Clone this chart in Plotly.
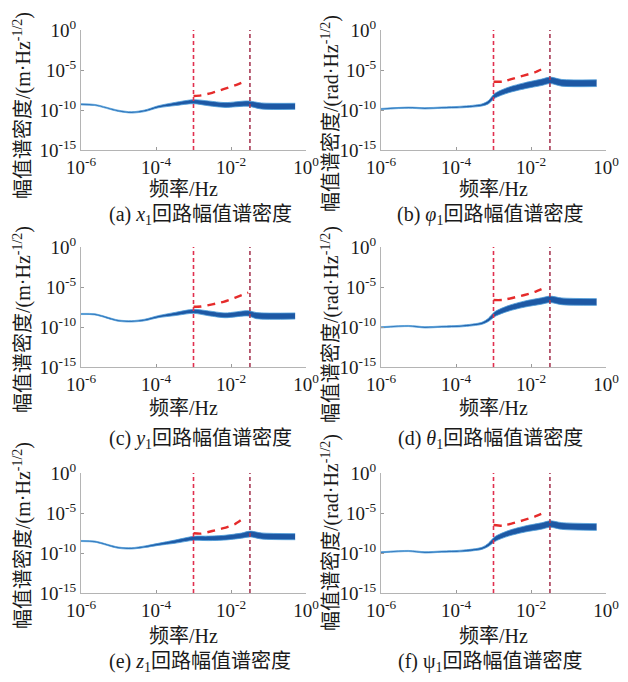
import plotly.graph_objects as go

# ---- data (log10 values) ----
# left column (x1, y1, z1 loops)
LF_A = [-6, -5.63, -5.01, -4.65, -4.3, -3.94, -3.49, -3.0, -2.6, -2.16, -1.54, -1.19, -0.29]
LA_A = [-9.29, -9.375, -10.1, -10.3, -10.1, -9.6, -9.25, -8.96, -9.17, -9.375, -9.2, -9.5, -9.54]
HW_A = [0.07, 0.07, 0.08, 0.08, 0.1, 0.13, 0.2, 0.25, 0.3, 0.3, 0.33, 0.38, 0.38]

LF_C = [-6, -5.63, -5.01, -4.65, -4.3, -3.94, -3.49, -3.0, -2.6, -2.16, -1.54, -1.32, -0.29]
LA_C = [-8.375, -8.42, -9.2, -9.29, -9.125, -8.71, -8.375, -8.04, -8.29, -8.54, -8.29, -8.58, -8.625]
HW_C = [0.07, 0.07, 0.08, 0.08, 0.1, 0.13, 0.2, 0.25, 0.3, 0.3, 0.33, 0.38, 0.38]

LF_E = [-6, -5.63, -5.01, -4.65, -4.29, -3.94, -3.49, -3.0, -2.6, -2.16, -1.72, -1.49, -1.18, -0.29]
LA_E = [-8.5, -8.58, -9.33, -9.42, -9.21, -8.92, -8.58, -8.17, -8.17, -8.08, -7.83, -7.625, -7.875, -7.96]
HW_E = [0.07, 0.07, 0.08, 0.08, 0.1, 0.13, 0.2, 0.25, 0.28, 0.3, 0.32, 0.36, 0.38, 0.38]

# right column (phi1, theta1, psi1 loops)
LF_B = [-6, -5.27, -4.83, -4.38, -3.85, -3.31, -3.14, -2.96, -2.6, -2.16, -1.72, -1.49, -1.18, -0.25]
LA_B = [-9.875, -9.71, -9.79, -9.71, -9.625, -9.375, -9.04, -8.21, -7.5, -6.96, -6.54, -6.29, -6.6, -6.65]
HW_B = [0.07, 0.07, 0.08, 0.08, 0.1, 0.13, 0.2, 0.3, 0.35, 0.38, 0.4, 0.4, 0.42, 0.42]

LF_D = LF_B
LA_D = [-10.04, -9.875, -10.04, -9.96, -9.875, -9.54, -9.125, -8.375, -7.67, -7.125, -6.75, -6.54, -6.79, -6.875]
HW_D = HW_B

LF_F = LF_B
LA_F = [-9.92, -9.75, -9.92, -9.83, -9.75, -9.42, -9.0, -8.25, -7.54, -7.0, -6.625, -6.375, -6.625, -6.75]
HW_F = HW_B

# red dashed bound lines (log10 f, log10 A)
BF_A = [-3.0, -2.8, -2.5, -2.2, -1.9, -1.69]
BA_A = [-8.25, -8.17, -7.85, -7.4, -6.93, -6.54]
BF_C = [-3.0, -2.8, -2.5, -2.2, -1.9, -1.54]
BA_C = [-7.46, -7.44, -7.17, -6.85, -6.35, -5.71]
BF_E = [-3.0, -2.8, -2.5, -2.2, -1.9, -1.69]
BA_E = [-7.54, -7.58, -7.25, -6.9, -6.4, -5.75]
BF_B = [-3.0, -2.76, -2.5, -2.2, -1.9, -1.63]
BA_B = [-6.46, -6.46, -6.1, -5.7, -5.3, -4.71]
BF_D = [-3.0, -2.76, -2.5, -2.2, -1.9, -1.63]
BA_D = [-6.63, -6.62, -6.37, -6.03, -5.62, -5.08]
BF_F = [-3.0, -2.76, -2.5, -2.2, -1.9, -1.63]
BA_F = [-6.5, -6.6, -6.3, -5.9, -5.45, -4.92]

VLINES = [1e-3, 0.032]

X_TICKS = [1e-6, 1e-4, 1e-2, 1]
X_TICKTEXT = ["10<sup>-6</sup>", "10<sup>-4</sup>", "10<sup>-2</sup>", "10<sup>0</sup>"]
Y_TICKS = [1e-15, 1e-10, 1e-5, 1]
Y_TICKTEXT = ["10<sup>-15</sup>", "10<sup>-10</sup>", "10<sup>-5</sup>", "10<sup>0</sup>"]

CAPTIONS = ["(a) <i>x</i><sub>1</sub>回路幅值谱密度", "(b) <i>φ</i><sub>1</sub>回路幅值谱密度",
            "(c) <i>y</i><sub>1</sub>回路幅值谱密度", "(d) <i>θ</i><sub>1</sub>回路幅值谱密度",
            "(e) <i>z</i><sub>1</sub>回路幅值谱密度", "(f) ψ<sub>1</sub>回路幅值谱密度"]
YLAB_M = "幅值谱密度/(m·Hz<sup>-1/2</sup>)"
YLAB_R = "幅值谱密度/(rad·Hz<sup>-1/2</sup>)"
XLAB = "频率/Hz"

# ---- layout geometry (pixels in the 628x682 window) ----
OFF = 8                      # default page margin of the html body
W, H = 628 - OFF, 682 - OFF
COLS = [(81, 306), (381, 606)]
ROWS = [(30, 150), (247, 367), (473, 593)]
XLAB_Y = [189, 408, 636]
CAP_Y = [215, 439, 662]
XLAB_X = [183, 494]
CAP_X = [200, 490]
YLAB_X = [22, 330]
YLAB_Y = [[106, 114], [320, 325], [536, 533]]


def px(x):
    return (x - OFF) / W


def py(y):
    return 1 - (y - OFF) / H


FONT = "Liberation Serif, Times New Roman, Noto Sans CJK SC"

panels = [
    (LF_A, LA_A, HW_A, BF_A, BA_A),
    (LF_B, LA_B, HW_B, BF_B, BA_B),
    (LF_C, LA_C, HW_C, BF_C, BA_C),
    (LF_D, LA_D, HW_D, BF_D, BA_D),
    (LF_E, LA_E, HW_E, BF_E, BA_E),
    (LF_F, LA_F, HW_F, BF_F, BA_F),
]

fig = go.Figure()
layout = {}
annotations = []

for i, (lf, la, hw, bf, ba) in enumerate(panels):
    r, c = divmod(i, 2)
    n = "" if i == 0 else str(i + 1)
    xa, ya = "x" + n, "y" + n
    x0, x1 = COLS[c]
    y0, y1 = ROWS[r]
    f = [10 ** v for v in lf]
    lo = [10 ** (a - h) for a, h in zip(la, hw)]
    hi = [10 ** (a + h) for a, h in zip(la, hw)]
    fig.add_trace(go.Scatter(x=f, y=lo, mode="lines", line=dict(color="#4a9ad8", width=0.8, shape="spline", smoothing=0.8),
                             xaxis=xa, yaxis=ya, showlegend=False, hoverinfo="skip"))
    fig.add_trace(go.Scatter(x=f, y=hi, mode="lines", fill="tonexty", fillcolor="#1d58a4",
                             line=dict(color="#4a9ad8", width=0.8, shape="spline", smoothing=0.8),
                             xaxis=xa, yaxis=ya, showlegend=False, hoverinfo="skip"))
    for k, v in enumerate(VLINES):
        fig.add_trace(go.Scatter(x=[v, v], y=[1e-15, 1], mode="lines",
                                 line=dict(color="#e0304f" if k == 0 else "#a83a55", width=1.6, dash="4px,3px"),
                                 xaxis=xa, yaxis=ya, showlegend=False, hoverinfo="skip"))
    fig.add_trace(go.Scatter(x=[10 ** v for v in bf], y=[10 ** v for v in ba], mode="lines",
                             line=dict(color="#e52b2b", width=2.4, dash="8px,6px", shape="spline", smoothing=0.6),
                             xaxis=xa, yaxis=ya, showlegend=False, hoverinfo="skip"))

    common = dict(showline=True, linecolor="#b4b4b4", linewidth=1, showgrid=False, zeroline=False,
                  automargin=False, ticks="inside", ticklen=3, tickcolor="#9a9a9a",
                  tickfont=dict(family=FONT, size=19, color="#1a1a1a"))
    layout["xaxis" + n] = dict(type="log", range=[-6, 0], domain=[px(x0), px(x1)], anchor=ya,
                               tickvals=X_TICKS, ticktext=X_TICKTEXT, **common)
    layout["yaxis" + n] = dict(type="log", range=[-15, 0], domain=[py(y1), py(y0)], anchor=xa,
                               tickvals=Y_TICKS, ticktext=Y_TICKTEXT, **common)

    annotations.append(dict(text=XLAB, x=px(XLAB_X[c]), y=py(XLAB_Y[r]), xref="paper", yref="paper",
                            showarrow=False, xanchor="center", yanchor="middle",
                            font=dict(family=FONT, size=20, color="#1a1a1a")))
    annotations.append(dict(text=CAPTIONS[i], x=px(CAP_X[c]), y=py(CAP_Y[r]), xref="paper", yref="paper",
                            showarrow=False, xanchor="center", yanchor="middle",
                            font=dict(family=FONT, size=20, color="#1a1a1a")))
    annotations.append(dict(text=YLAB_M if c == 0 else YLAB_R, x=px(YLAB_X[c]), y=py(YLAB_Y[r][c]),
                            xref="paper", yref="paper", showarrow=False, textangle=-90,
                            xanchor="center", yanchor="middle",
                            font=dict(family=FONT, size=20, color="#1a1a1a")))

fig.update_layout(width=W, height=H, margin=dict(l=0, r=0, t=0, b=0, pad=0),
                  paper_bgcolor="white", plot_bgcolor="white", annotations=annotations, **layout)
fig.write_html("out.html")
